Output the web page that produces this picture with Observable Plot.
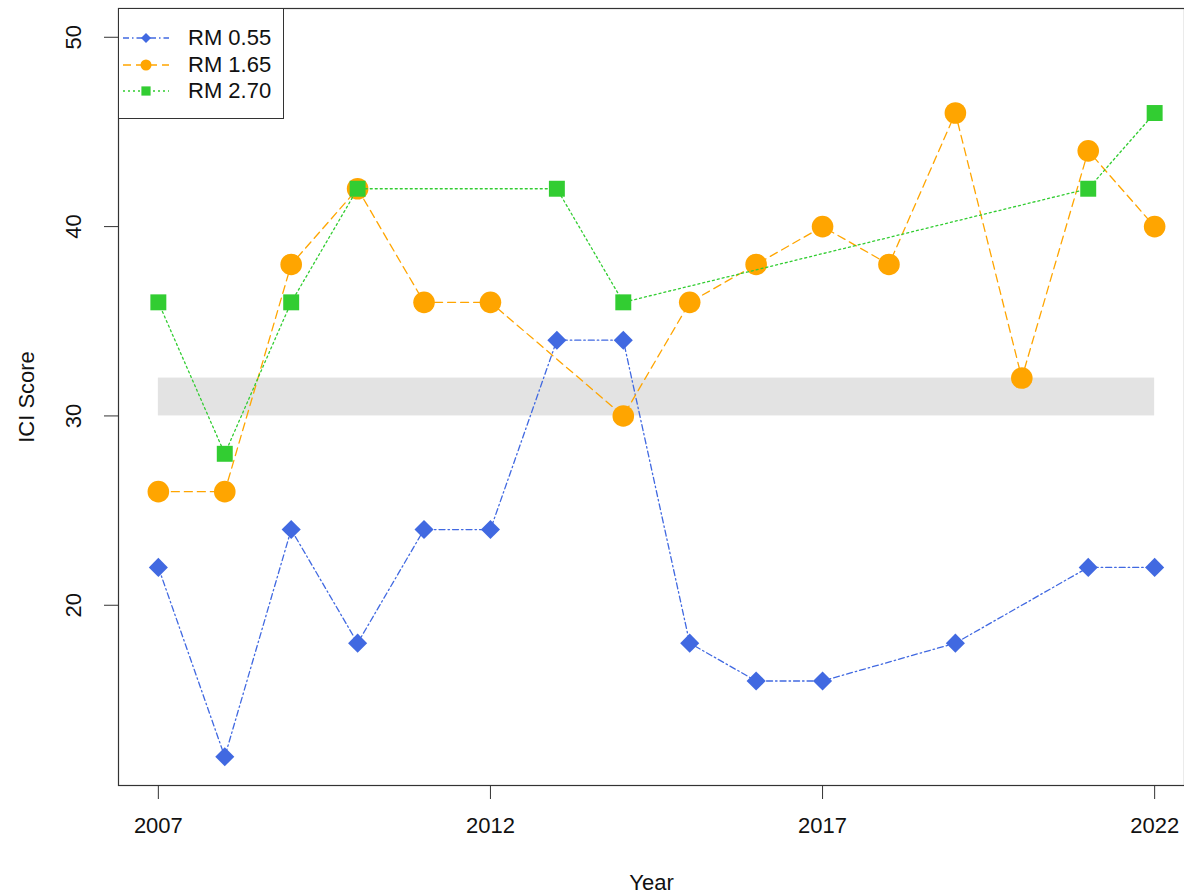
<!DOCTYPE html>
<html><head><meta charset="utf-8">
<script src="https://cdn.jsdelivr.net/npm/d3@7"></script>
<script src="https://cdn.jsdelivr.net/npm/@observablehq/plot@0.6"></script>
<style>
body{margin:0;background:#fff;overflow:hidden;font-family:"Liberation Sans",Arial,sans-serif}
#wrap{position:relative;width:1184px;height:896px;overflow:hidden}
#legend{position:absolute;left:118px;top:8px;width:166px;height:111px;border:1px solid #333;background:#fff;box-sizing:border-box}
.item{position:absolute;left:4px;height:26px;display:flex;align-items:center;font-size:22px;color:#111}
.item svg{margin-right:19px}
</style>
</head><body>
<div id="wrap"><div id="chart"></div><div id="legend"></div></div>
<script>
// ---- data ----
const seriesNames = ["RM 0.55", "RM 1.65", "RM 2.70"];
const yearsRM055 = [2007,2008,2009,2010,2011,2012,2013,2014,2015,2016,2017,2019,2021,2022];
const valuesRM055 = [22,12,24,18,24,24,34,34,18,16,16,18,22,22];
const yearsRM165 = [2007,2008,2009,2010,2011,2012,2014,2015,2016,2017,2018,2019,2020,2021,2022];
const valuesRM165 = [26,26,38,42,36,36,30,36,38,40,38,46,32,44,40];
const yearsRM270 = [2007,2008,2009,2010,2013,2014,2021,2022];
const valuesRM270 = [36,28,36,42,42,36,42,46];
const bandYears = [2007, 2022];
const bandValues = [30, 32];
const xTicks = [2007, 2012, 2017, 2022];
const yTicks = [20, 30, 40, 50];

// ---- styles ----
const styles = [
  {color:"#4169E1", dash:"6,3,1.5,3", symbol:"diamond2", r:8.6, legR:4.5},
  {color:"#FFA500", dash:"8,5", symbol:"circle", r:10.8, legR:5.5},
  {color:"#32CD32", dash:"2,3", symbol:"square", r:9.0, legR:5.2}
];
const yearsList = [yearsRM055, yearsRM165, yearsRM270];
const valuesList = [valuesRM055, valuesRM165, valuesRM270];
const rows = seriesNames.map((name, k) => yearsList[k].map((y, i) => ({series: name, year: y, value: valuesList[k][i]})));

const marks = [
  Plot.rect([{x1: bandYears[0], x2: bandYears[1], y1: bandValues[0], y2: bandValues[1]}],
    {x1: "x1", x2: "x2", y1: "y1", y2: "y2", fill: "#e3e3e3"})
];
rows.forEach((data, k) => {
  const s = styles[k];
  marks.push(Plot.line(data, {x: "year", y: "value", stroke: s.color, strokeWidth: 1.3, strokeDasharray: s.dash}));
  marks.push(Plot.dot(data, {x: "year", y: "value", symbol: s.symbol, r: s.r, fill: s.color, stroke: "none"}));
});
marks.push(Plot.frame({stroke: "#333", strokeWidth: 1.2}));
marks.push(Plot.axisX({ticks: xTicks, tickFormat: d => String(d), tickSize: 14, tickPadding: 18, fontSize: 22,
  label: "Year", labelArrow: "none", labelAnchor: "center", labelOffset: 104, stroke: "#333"}));
marks.push(Plot.axisY({ticks: yTicks, tickSize: 14, text: null, label: null, stroke: "#333"}));
marks.push(Plot.axisY({ticks: yTicks, tickSize: 0, tickPadding: 38, fontSize: 22, rotate: -90,
  textAnchor: "middle", lineAnchor: "bottom", label: "ICI Score", labelArrow: "none", labelAnchor: "center", labelOffset: 100}));

const chart = Plot.plot({
  width: 1184, height: 896,
  marginLeft: 118, marginTop: 8, marginBottom: 111, marginRight: 0,
  style: {fontFamily: "'Liberation Sans', Arial, sans-serif", fontSize: "22px", color: "#111", background: "#fff"},
  x: {domain: [2006.4, 2022.6], range: [118, 1194]},
  y: {domain: [10.48, 51.52]},
  marks
});
document.getElementById("chart").appendChild(chart);

// ---- legend ----
const legend = document.getElementById("legend");
seriesNames.forEach((name, k) => {
  const s = styles[k];
  const div = document.createElement("div");
  div.className = "item";
  div.style.top = (16 + k * 26.5) + "px";
  const sym = s.symbol === "diamond2" ? d3.symbolDiamond2 : s.symbol === "circle" ? d3.symbolCircle : d3.symbolSquare;
  const path = d3.symbol(sym, Math.PI * s.legR * s.legR)();
  div.innerHTML = `<svg width="46" height="20"><line x1="0" x2="46" y1="10" y2="10" stroke="${s.color}" stroke-width="1.3" stroke-dasharray="${s.dash}"/><path transform="translate(23,10)" d="${path}" fill="${s.color}"/></svg><span>${name}</span>`;
  legend.appendChild(div);
});
</script>
</body></html>
